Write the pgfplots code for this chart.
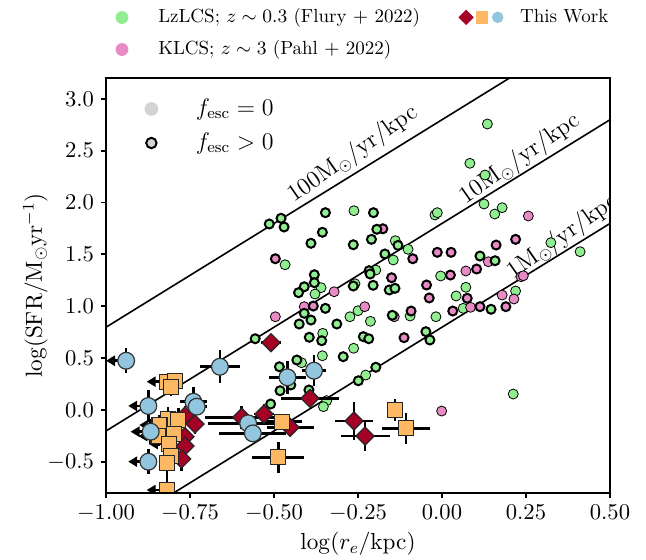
\RequirePackage{fix-cm}
\documentclass[border=0pt]{standalone}
\usepackage{pgfplots}
\pgfplotsset{compat=1.18}
\usepackage{pgfplotstable}
\usetikzlibrary{arrows.meta}

\definecolor{lzgreen}{RGB}{144,238,144}
\definecolor{klpink}{RGB}{232,139,196}
\definecolor{twred}{RGB}{165,0,38}
\definecolor{tworange}{RGB}{253,184,99}
\definecolor{twblue}{RGB}{146,197,222}
\definecolor{fgrey}{RGB}{211,211,211}

% LzLCS (Flury+2022), f_esc = 0
\pgfplotstableread{
x y
-0.262 1.921
-0.467 1.400
-0.139 1.632
-0.101 1.549
-0.145 1.446
-0.197 1.349
-0.259 1.217
-0.360 1.179
-0.378 1.118
-0.250 0.957
-0.274 0.899
-0.213 0.855
-0.095 0.906
-0.355 0.739
-0.263 0.595
-0.356 0.523
-0.418 0.456
-0.227 0.337
0.135 2.757
0.083 2.378
0.128 2.265
0.125 1.986
0.157 1.889
0.179 1.950
-0.021 1.880
-0.014 1.902
0.324 1.613
0.411 1.526
-0.004 1.292
0.071 1.183
0.042 1.099
0.063 0.980
0.219 1.147
-0.018 0.899
0.212 0.154
-0.343 0.090
-0.353 0.032
}\lzzero

% LzLCS (Flury+2022), f_esc > 0
\pgfplotstableread{
x y
-0.514 1.793
-0.479 1.848
-0.470 1.764
-0.347 1.902
-0.204 1.902
-0.194 1.742
-0.356 1.713
-0.390 1.607
-0.264 1.593
-0.210 1.645
-0.170 1.504
-0.131 1.587
-0.380 1.304
-0.380 1.227
-0.410 1.188
-0.427 1.131
-0.217 1.343
-0.214 1.311
-0.264 1.195
-0.205 1.202
-0.157 1.157
-0.140 1.173
-0.347 0.980
-0.410 0.932
-0.390 0.867
-0.425 0.829
-0.313 0.829
-0.395 0.701
-0.358 0.668
-0.234 0.707
-0.218 0.687
-0.556 0.687
-0.294 0.514
-0.484 0.417
-0.432 0.482
-0.148 0.913
-0.197 0.412
0.113 1.484
0.158 1.439
0.146 0.971
-0.048 0.755
-0.036 0.675
-0.249 0.282
-0.450 0.241
-0.482 0.186
-0.510 0.058
-0.396 0.193
}\lzpos

% KLCS (Pahl+2022), f_esc = 0
\pgfplotstableread{
x y
-0.496 0.899
-0.410 0.996
-0.321 1.140
-0.230 0.996
-0.142 0.899
0.257 1.870
0.071 1.340
0.138 1.429
0.235 1.285
0.242 1.294
0.179 1.108
0.214 1.070
0.085 0.990
-0.001 -0.010
}\klzero

% KLCS (Pahl+2022), f_esc > 0
\pgfplotstableread{
x y
-0.496 1.458
-0.176 1.747
-0.087 1.458
-0.150 1.275
-0.092 0.954
-0.113 0.697
-0.383 1.002
-0.014 1.520
0.027 1.520
0.161 1.590
0.219 1.645
0.103 1.359
0.025 1.301
-0.046 1.205
-0.038 1.080
0.075 1.077
0.032 0.954
0.113 0.996
0.190 0.996
}\klpos

% This work: diamonds
\pgfplotstableread{
x y ex ey
-0.765 -0.058 0.02 0.10
-0.735 -0.135 0.02 0.10
-0.765 -0.257 0.02 0.10
-0.765 -0.347 0.02 0.10
-0.775 -0.472 0.02 0.12
-0.509 0.649 0.03 0.03
-0.393 0.113 0.085 0.03
-0.596 -0.070 0.11 0.11
-0.530 -0.039 0.03 0.10
-0.452 -0.167 0.07 0.06
-0.262 -0.106 0.057 0.18
-0.229 -0.251 0.073 0.145
}\twdiam

% This work: squares
\pgfplotstableread{
x y ex ey
-0.819 0.273 0.01 0.05
-0.795 0.282 0.01 0.05
-0.807 0.219 0.01 0.08
-0.815 -0.090 0.02 0.12
-0.785 -0.096 0.02 0.12
-0.841 -0.145 0.02 0.10
-0.844 -0.251 0.02 0.10
-0.798 -0.231 0.02 0.10
-0.8125 -0.328 0.02 0.12
-0.807 -0.443 0.02 0.12
-0.819 -0.508 0.02 0.25
-0.819 -0.771 0.01 0.05
-0.477 -0.113 0.06 0.06
-0.487 -0.456 0.077 0.15
-0.140 0.000 0.025 0.11
-0.107 -0.176 0.072 0.15
}\twsq

% This work: circles
\pgfplotstableread{
x y ex ey
-0.940 0.475 0.01 0.12
-0.661 0.417 0.06 0.16
-0.460 0.315 0.056 0.16
-0.381 0.379 0.036 0.15
-0.740 0.080 0.04 0.14
-0.730 0.032 0.03 0.05
-0.874 0.039 0.01 0.15
-0.867 -0.209 0.01 0.12
-0.874 -0.498 0.01 0.12
-0.577 -0.128 0.12 0.05
-0.563 -0.225 0.10 0.06
}\twcirc

% Upper limits on the size
\pgfplotstableread{
x y u
-0.940 0.475 -0.06
-0.874 0.039 -0.06
-0.867 -0.209 -0.06
-0.874 -0.498 -0.06
-0.819 0.273 -0.06
-0.841 -0.145 -0.06
-0.844 -0.251 -0.06
-0.8125 -0.328 -0.06
-0.819 -0.771 -0.06
}\twlim

\pgfplotsset{
  plain dot/.style={forget plot, only marks, mark=*, mark size=2.5pt,
    mark options={draw=none, fill=#1}},
  edge dot/.style={forget plot, only marks, mark=*, mark size=2.25pt,
    mark options={draw=black, line width=1pt, fill=#1}},
  err/.style={forget plot, only marks, mark=none,
    error bars/.cd, x dir=both, x explicit, y dir=both, y explicit,
    error mark=none, error bar style={draw=black, line width=1.3pt}},
  key axis/.style={
    at={(0,0)}, anchor=south west,
    scale only axis, width=252pt, height=207.5pt,
    xmin=-1, xmax=0.5, ymin=-0.8, ymax=3.2, hide axis,
    legend cell align=left},
  top key/.style={
    legend style={draw=none, fill=none, inner sep=0pt, outer sep=0pt,
      at={(axis description cs:0,1)}, anchor=south west,
      font=\fontsize{9.5}{11.5}\selectfont,
      nodes={inner sep=1pt, text height=7.1pt, text depth=2.4pt},
      row sep=4.5pt}},
}

\begin{document}
\begin{tikzpicture}
\useasboundingbox (-53pt,-33pt) rectangle (270pt,246.5pt);
\begin{axis}[
  at={(0,0)}, anchor=south west,
  scale only axis, width=252pt, height=207.5pt,
  xmin=-1, xmax=0.5, ymin=-0.8, ymax=3.2,
  xtick={-1,-0.75,-0.5,-0.25,0,0.25,0.5},
  ytick={-0.5,0,0.5,1,1.5,2,2.5,3},
  xticklabel style={/pgf/number format/.cd, fixed, fixed zerofill, precision=2},
  yticklabel style={/pgf/number format/.cd, fixed, fixed zerofill, precision=1},
  tick label style={font=\fontsize{11.3}{13}\selectfont},
  tick align=outside, tick pos=left,
  major tick length=2.5pt,
  every tick/.style={black, line width=0.9pt},
  axis line style={line width=1.4pt},
  axis on top,
  clip marker paths=true,
  xlabel={$\log(r_e/\mathrm{kpc})$},
  ylabel={$\log(\mathrm{SFR}/\mathrm{M_\odot yr^{-1}})$},
  label style={font=\fontsize{11.6}{14}\selectfont},
  x label style={at={(axis description cs:0.5,-0.1224)}, anchor=center},
  y label style={at={(axis description cs:-0.14,0.5)}, anchor=center},
  legend cell align=left,
  top key,
  legend style={yshift=8.5pt},
]
% constant surface density of star formation
\addplot[forget plot, black, line width=0.8pt] coordinates {(-1,0.798) (0.5,3.798)};
\addplot[forget plot, black, line width=0.8pt] coordinates {(-1,-0.202) (0.5,2.798)};
\addplot[forget plot, black, line width=0.8pt] coordinates {(-1,-1.202) (0.5,1.798)};
\node[rotate=35, font=\fontsize{12}{14}\selectfont] at (axis cs:-0.265,2.467) {$100\mathrm{M_\odot/yr/kpc}$};
\node[rotate=35, font=\fontsize{12}{14}\selectfont] at (axis cs:0.232,2.419) {$10\mathrm{M_\odot/yr/kpc}$};
\node[rotate=35, font=\fontsize{12}{14}\selectfont] at (axis cs:0.359,1.667) {$1\mathrm{M_\odot/yr/kpc}$};

% comparison samples
\addplot[plain dot=lzgreen] table {\lzzero};
\addplot[plain dot=klpink] table {\klzero};
\addplot[edge dot=klpink] table {\klpos};
\addplot[edge dot=lzgreen] table {\lzpos};

% this work: uncertainties and limits
\addplot[err] table[x=x, y=y, x error=ex, y error=ey] {\twdiam};
\addplot[err] table[x=x, y=y, x error=ex, y error=ey] {\twsq};
\addplot[err] table[x=x, y=y, x error=ex, y error=ey] {\twcirc};
\addplot[forget plot, black, line width=1.3pt, mark=none,
  -{Triangle[length=4.5pt,width=5pt]},
  quiver={u=\thisrow{u}, v=0}] table {\twlim};

% this work: measurements
\addplot[forget plot, only marks, mark=square*, mark size=3.2pt,
  mark options={rotate=45, fill=twred, draw=black!85, line width=0.6pt}] table {\twdiam};
\addplot[forget plot, only marks, mark=square*, mark size=3.75pt,
  mark options={fill=tworange, draw=black!85, line width=0.6pt}] table {\twsq};
\addplot[forget plot, only marks, mark=*, mark size=4.2pt,
  mark options={fill=twblue, draw=black!80, line width=0.6pt}] table {\twcirc};

% key: comparison samples
\addlegendimage{legend image code/.code={
  \path (0pt,0pt) (24.75pt,0pt);
  \fill[lzgreen] (7.8pt,0pt) circle[radius=3pt];}}
\addlegendentry{LzLCS; $z\sim0.3$ (Flury $+$ 2022)}
\addlegendimage{legend image code/.code={
  \path (0pt,0pt) (24.75pt,0pt);
  \fill[klpink] (7.8pt,0pt) circle[radius=3pt];}}
\addlegendentry{KLCS; $z\sim3$ (Pahl $+$ 2022)}
\end{axis}

% key: this work
\begin{axis}[key axis, top key,
  legend style={xshift=169.85pt, yshift=24.6pt}]
\addlegendimage{legend image code/.code={
  \path (0pt,0pt) (35.8pt,0pt);
  \fill[twred] (10pt,3.55pt) -- (13.55pt,0pt) -- (10pt,-3.55pt) -- (6.45pt,0pt) -- cycle;
  \fill[tworange] (15.2pt,-2.8pt) rectangle (20.8pt,2.8pt);
  \fill[twblue] (25.8pt,0pt) circle[radius=2.65pt];}}
\addlegendentry{This Work}
\end{axis}

% key: escape fraction
\begin{axis}[key axis,
  legend style={draw=none, fill=none, inner sep=0pt, outer sep=0pt,
    at={(axis description cs:0,1)}, anchor=north west, yshift=-8.5pt,
    font=\fontsize{12}{14}\selectfont,
    nodes={inner sep=1pt, text height=9pt, text depth=3pt},
    row sep=3pt},
]
\addlegendimage{legend image code/.code={
  \path (0pt,0pt) (43.5pt,0pt);
  \fill[fgrey] (22.5pt,0pt) circle[radius=3.2pt];}}
\addlegendentry{$f_{\rm esc}=0$}
\addlegendimage{legend image code/.code={
  \path (0pt,0pt) (43.5pt,0pt);
  \filldraw[fill=fgrey, draw=black, line width=1pt] (22.5pt,0pt) circle[radius=2.6pt];}}
\addlegendentry{$f_{\rm esc}>0$}
\end{axis}
\end{tikzpicture}
\end{document}
